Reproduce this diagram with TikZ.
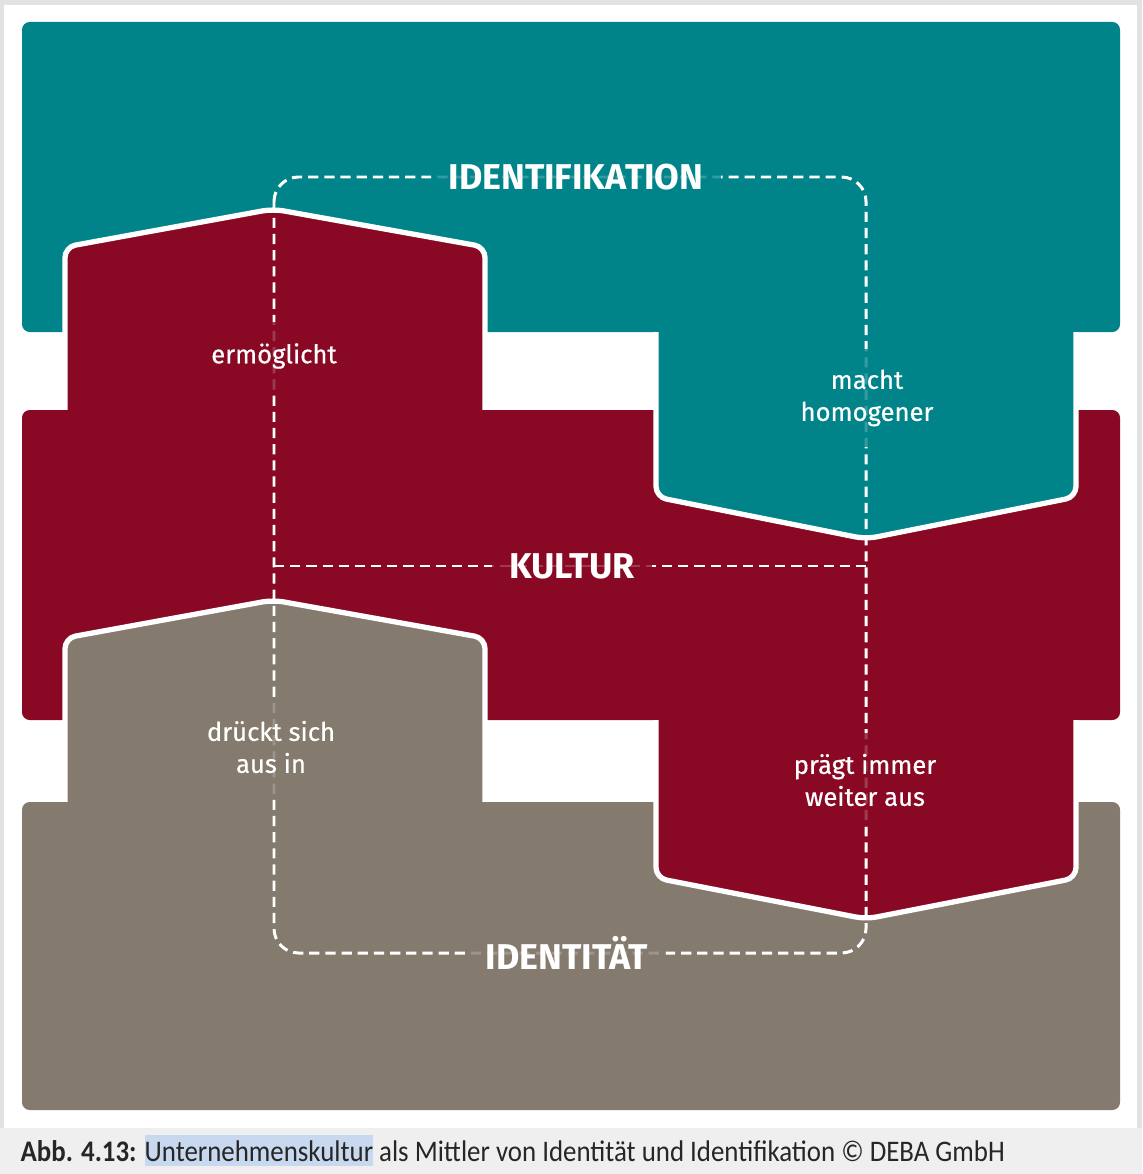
\documentclass[tikz,border=0pt]{standalone}
\usepackage{fontspec}
\usepackage{tikz}
\usetikzlibrary{positioning,calc}
\newfontfamily\lblfont{Fira Sans}[FakeBold=0.5]
\newfontfamily\ttlfont{Fira Sans}
\newfontfamily\capfont{Carlito}[FakeStretch=0.9]
\definecolor{kteal}{RGB}{0,132,138}
\definecolor{kred}{RGB}{137,9,37}
\definecolor{kgray}{RGB}{133,122,110}
\definecolor{frame}{RGB}{226,226,226}
\definecolor{capband}{RGB}{239,239,239}
\definecolor{hilite}{RGB}{200,216,238}

\begin{document}
\begin{tikzpicture}[x=0.1mm, y=-0.1mm,
  block/.style={rounded corners=2.2pt},
  tab/.style={draw=white, line width=1.5pt, rounded corners=3pt, line join=round},
  link/.style={draw=white, line width=0.85pt, dash pattern=on 2.9pt off 1.7pt},
  verb/.style={text=white, font=\lblfont\fontsize{7.3}{9.1}\selectfont, align=center,
    fill opacity=0.8, text opacity=1, inner xsep=3pt, inner ysep=6pt},
  title/.style={text=white, font=\ttlfont\bfseries\fontsize{10.2}{12}\selectfont,
    fill opacity=0.8, text opacity=1, inner xsep=5pt, inner ysep=3pt}]
\useasboundingbox (0,0) rectangle (1142,1174);
% frame and caption band
\fill[frame] (0,0) rectangle (1142,1174);
\fill[capband] (0,1128) rectangle (1142,1174);
\fill[white] (4,5) rectangle (1137,1128);

% IDENTIFIKATION (top)
\fill[kteal, block] (22,22) rectangle (1120,332);
\filldraw[fill=kred, tab] (65,410) -- (65,247) -- (273,209) -- (485,247) -- (485,410);
% KULTUR (middle)
\fill[kred, block] (22,410) rectangle (1120,720);
\filldraw[fill=kteal, tab] (656,332) -- (656,497) -- (866,539) -- (1076,497) -- (1076,332);
\filldraw[fill=kgray, tab] (65,802) -- (65,638) -- (273,600) -- (485,638) -- (485,802);
% IDENTITAET (bottom)
\fill[kgray, block] (22,802) rectangle (1120,1110);
\filldraw[fill=kred, tab] (656,720) -- (656,878) -- (866,919) -- (1076,878) -- (1076,720);

% dashed links
\coordinate (tl) at (274,177);
\coordinate (br) at (866,953);
\coordinate (kl) at (274,566);
\coordinate (kr) at (866,566);
\draw[link, rounded corners=7pt] (tl) rectangle (br);
\draw[link] (kl) -- (kr);

% labels
\node[title, fill=kteal] (ident) at (576,177) {IDENTIFIKATION};
\node[title, fill=kred] (kultur) at (572,566) {KULTUR};
\node[title, fill=kgray] (identitaet) at (567,953) {IDENTITÄT};
\node[verb, fill=kred] (ermoeg) at (274,356) {ermöglicht};
\node[verb, fill=kteal] (homog) at (867,398) {macht\\homogener};
\node[verb, fill=kgray] (drueckt) at (271,747) {drückt sich\\aus in};
\node[verb, fill=kred] (praegt) at (865,780) {prägt immer\\weiter aus};

% caption
\node[anchor=west, inner sep=0pt, text=black!85, font=\capfont\fontsize{8.5}{9}\selectfont] (caption) at (20,1150.5)
  {\textbf{Abb. 4.13:} {\setlength{\fboxsep}{0pt}\colorbox{hilite}{\rule[-1.5pt]{0pt}{9pt}Unternehmenskultur}} als Mittler von Identität und Identifikation © DEBA GmbH};
\end{tikzpicture}
\end{document}
